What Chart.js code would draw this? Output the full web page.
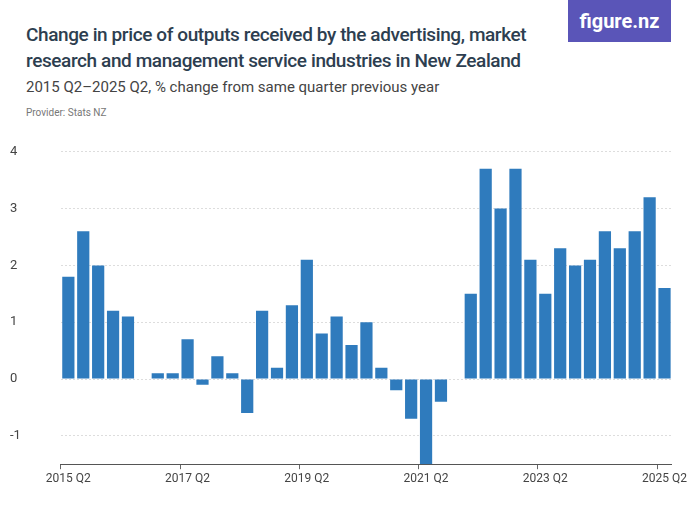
<!DOCTYPE html>
<html><head><meta charset="utf-8">
<script src="https://cdn.jsdelivr.net/npm/chart.js@4/dist/chart.umd.min.js"></script>
<style>
body{margin:0;width:700px;height:525px;background:#fff;font-family:Roboto,"Noto Sans",sans-serif;position:relative;overflow:hidden}
h1{position:absolute;left:26px;top:22px;margin:0;font-size:19px;line-height:26px;font-weight:500;color:#2d3e50;width:520px;letter-spacing:-0.4px}
.sub{position:absolute;left:26px;top:78px;font-size:15px;color:#444}
.prov{position:absolute;left:26px;top:107px;font-size:10px;color:#777}
.logo{position:absolute;left:568px;top:0;width:103px;height:42px;background:#5a55b8;color:#fff;font-size:20px;font-weight:bold;text-align:center;line-height:42px}
#wrap{position:absolute;left:10px;top:124px;width:680px;height:368px}
</style></head><body>
<h1>Change in price of outputs received by the advertising, market research and management service industries in New Zealand</h1>
<div class="sub">2015 Q2–2025 Q2, % change from same quarter previous year</div>
<div class="prov">Provider: Stats NZ</div>
<div class="logo">figure.nz</div>
<div id="wrap"><canvas id="c"></canvas></div>
<script>
const startYear = 2015
const values = [1.8, 2.6, 2.0, 1.2, 1.1, null, 0.1, 0.1, 0.7, -0.1, 0.4, 0.1, -0.6, 1.2, 0.2, 1.3,
  2.1, 0.8, 1.1, 0.6, 1.0, 0.2, -0.2, -0.7, -1.5, -0.4, null, 1.5, 3.7, 3.0, 3.7, 2.1,
  1.5, 2.3, 2.0, 2.1, 2.6, 2.3, 2.6, 3.2, 1.6]
const yTicks = [-1, 0, 1, 2, 3, 4]

const labels = values.map((v, i) => {
  const q = i + 1
  return (startYear + Math.floor(q / 4)) + ' Q' + (q % 4 + 1)
})

new Chart(document.getElementById('c'), {
  type: 'bar',
  data: {labels, datasets: [{data: values, backgroundColor: '#2f7bbd', barPercentage: 1, categoryPercentage: 0.82}]},
  options: {
    responsive: true, maintainAspectRatio: false, animation: false,
    plugins: {legend: {display: false}, tooltip: {enabled: false}},
    scales: {
      x: {
        grid: {drawOnChartArea: false, drawTicks: true, tickLength: 5,
          color: ctx => ctx.index % 8 === 0 ? '#666' : 'rgba(0,0,0,0)'},
        border: {color: '#555'},
        ticks: {
          autoSkip: false, maxRotation: 0, color: '#444', font: {family: 'Roboto', size: 12},
          callback: (v, i) => i % 8 === 0 ? labels[i] : ''
        }
      },
      y: {
        min: -1.5, max: 4,
        afterBuildTicks: s => { s.ticks = yTicks.map(v => ({value: v})) },
        grid: {color: '#ddd', drawTicks: false},
        border: {display: false, dash: [2, 2]},
        ticks: {color: '#444', font: {family: 'Roboto', size: 13}, padding: 20, crossAlign: 'far'}
      }
    }
  }
})
</script>
</body></html>
